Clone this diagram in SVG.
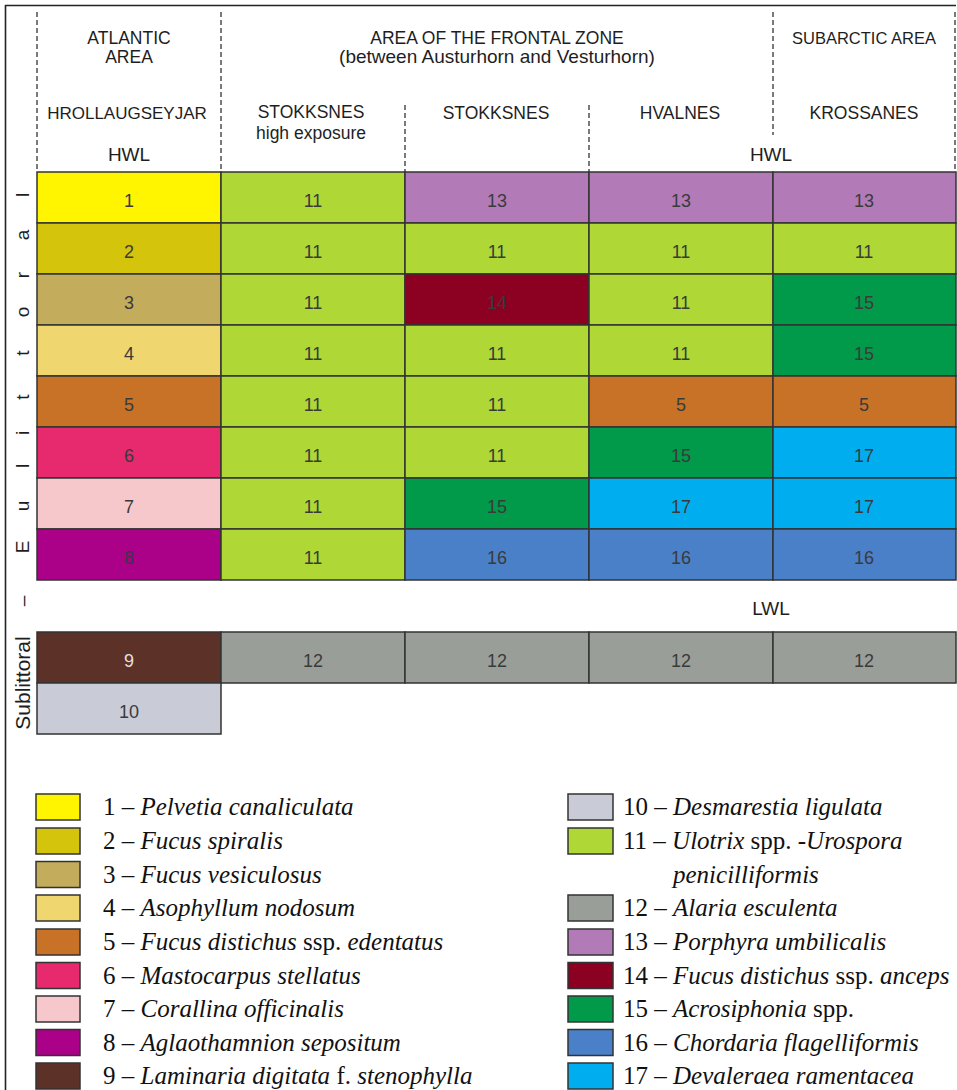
<svg xmlns="http://www.w3.org/2000/svg" width="957" height="1090" viewBox="0 0 957 1090">
<style>
.hd{font-family:"Liberation Sans",Arial,sans-serif;fill:#1e1e1e;text-anchor:middle}
.cap{font-size:17.5px}
.low{font-size:19px}
.wl{font-size:19px}
.num{font-family:"Liberation Sans",Arial,sans-serif;font-size:18px;fill:#3a3a3a;text-anchor:middle}
.cell{stroke:#333;stroke-width:1.5}
.dash{stroke:#333;stroke-width:1.3;stroke-dasharray:5 3;fill:none}
.lg{font-family:"Liberation Serif","Times New Roman",serif;font-size:25px;fill:#111}
.it{font-style:italic}
.sw{stroke:#333;stroke-width:1.5}
.c1{fill:#fff500}.c2{fill:#d4c40c}.c3{fill:#c3ac5c}.c4{fill:#efd66e}.c5{fill:#c77226}
.c6{fill:#e72a6d}.c7{fill:#f6c8cc}.c8{fill:#ab0088}.c9{fill:#5c3128}.c10{fill:#c9ccd6}
.c11{fill:#afd736}.c12{fill:#9a9e99}.c13{fill:#b27ab7}.c14{fill:#8c0022}.c15{fill:#009a4a}
.c16{fill:#4a80c7}.c17{fill:#00aeef}
</style>
<rect width="957" height="1090" fill="#fff"/>
<g id="frame" stroke="#222" stroke-width="1.6" fill="none">
<line x1="5" y1="5.5" x2="956" y2="5.5"/>
<line x1="5.5" y1="5" x2="5.5" y2="1090"/>
</g>
<g id="connectors">
<line class="dash" x1="37" y1="12" x2="37" y2="172"/>
<line class="dash" x1="221" y1="12" x2="221" y2="172"/>
<line class="dash" x1="405" y1="105" x2="405" y2="172"/>
<line class="dash" x1="589" y1="105" x2="589" y2="172"/>
<line class="dash" x1="773" y1="12" x2="773" y2="135"/>
<line class="dash" x1="955" y1="12" x2="955" y2="172"/>
</g>
<g id="headers">
<text class="hd cap" x="129" y="44">ATLANTIC</text>
<text class="hd cap" x="129" y="63">AREA</text>
<text class="hd cap" x="497" y="44">AREA OF THE FRONTAL ZONE</text>
<text class="hd low" x="497" y="63">(between Austurhorn and Vesturhorn)</text>
<text class="hd cap" x="864" y="44" style="font-size:16.5px">SUBARCTIC AREA</text>
<text class="hd cap" x="127" y="119" style="font-size:17px">HROLLAUGSEYJAR</text>
<text class="hd cap" x="311" y="118">STOKKSNES</text>
<text class="hd" x="311" y="138.5" style="font-size:17.5px">high exposure</text>
<text class="hd cap" x="496" y="119">STOKKSNES</text>
<text class="hd cap" x="680" y="119">HVALNES</text>
<text class="hd cap" x="864" y="119">KROSSANES</text>
<text class="hd wl" x="129" y="161">HWL</text>
<text class="hd wl" x="771" y="161">HWL</text>
<text class="hd wl" x="771" y="615">LWL</text>
</g>
<g id="axis" font-family="Liberation Sans, Arial, sans-serif" fill="#1e1e1e">
<text id="eulittoral" transform="translate(29,0) rotate(-90)" font-size="19" text-anchor="middle" x="-601 -547 -506 -466 -433 -397 -353 -312 -275 -235 -195" y="0">–Eulittoral</text>
<text id="sublittoral" transform="translate(30,683) rotate(-90)" font-size="21" text-anchor="middle" x="0" y="0">Sublittoral</text>
</g>
<g id="grid">
<g id="row1">
<rect class="cell c1" x="37" y="172" width="184" height="51"/><text class="num" x="129" y="207">1</text>
<rect class="cell c11" x="221" y="172" width="184" height="51"/><text class="num" x="313" y="207">11</text>
<rect class="cell c13" x="405" y="172" width="184" height="51"/><text class="num" x="497" y="207">13</text>
<rect class="cell c13" x="589" y="172" width="184" height="51"/><text class="num" x="681" y="207">13</text>
<rect class="cell c13" x="773" y="172" width="183" height="51"/><text class="num" x="864" y="207">13</text>
</g>
<g id="row2">
<rect class="cell c2" x="37" y="223" width="184" height="51"/><text class="num" x="129" y="258">2</text>
<rect class="cell c11" x="221" y="223" width="184" height="51"/><text class="num" x="313" y="258">11</text>
<rect class="cell c11" x="405" y="223" width="184" height="51"/><text class="num" x="497" y="258">11</text>
<rect class="cell c11" x="589" y="223" width="184" height="51"/><text class="num" x="681" y="258">11</text>
<rect class="cell c11" x="773" y="223" width="183" height="51"/><text class="num" x="864" y="258">11</text>
</g>
<g id="row3">
<rect class="cell c3" x="37" y="274" width="184" height="51"/><text class="num" x="129" y="309">3</text>
<rect class="cell c11" x="221" y="274" width="184" height="51"/><text class="num" x="313" y="309">11</text>
<rect class="cell c14" x="405" y="274" width="184" height="51"/><text class="num" x="497" y="309">14</text>
<rect class="cell c11" x="589" y="274" width="184" height="51"/><text class="num" x="681" y="309">11</text>
<rect class="cell c15" x="773" y="274" width="183" height="51"/><text class="num" x="864" y="309">15</text>
</g>
<g id="row4">
<rect class="cell c4" x="37" y="325" width="184" height="51"/><text class="num" x="129" y="360">4</text>
<rect class="cell c11" x="221" y="325" width="184" height="51"/><text class="num" x="313" y="360">11</text>
<rect class="cell c11" x="405" y="325" width="184" height="51"/><text class="num" x="497" y="360">11</text>
<rect class="cell c11" x="589" y="325" width="184" height="51"/><text class="num" x="681" y="360">11</text>
<rect class="cell c15" x="773" y="325" width="183" height="51"/><text class="num" x="864" y="360">15</text>
</g>
<g id="row5">
<rect class="cell c5" x="37" y="376" width="184" height="51"/><text class="num" x="129" y="411">5</text>
<rect class="cell c11" x="221" y="376" width="184" height="51"/><text class="num" x="313" y="411">11</text>
<rect class="cell c11" x="405" y="376" width="184" height="51"/><text class="num" x="497" y="411">11</text>
<rect class="cell c5" x="589" y="376" width="184" height="51"/><text class="num" x="681" y="411">5</text>
<rect class="cell c5" x="773" y="376" width="183" height="51"/><text class="num" x="864" y="411">5</text>
</g>
<g id="row6">
<rect class="cell c6" x="37" y="427" width="184" height="51"/><text class="num" x="129" y="462">6</text>
<rect class="cell c11" x="221" y="427" width="184" height="51"/><text class="num" x="313" y="462">11</text>
<rect class="cell c11" x="405" y="427" width="184" height="51"/><text class="num" x="497" y="462">11</text>
<rect class="cell c15" x="589" y="427" width="184" height="51"/><text class="num" x="681" y="462">15</text>
<rect class="cell c17" x="773" y="427" width="183" height="51"/><text class="num" x="864" y="462">17</text>
</g>
<g id="row7">
<rect class="cell c7" x="37" y="478" width="184" height="51"/><text class="num" x="129" y="513">7</text>
<rect class="cell c11" x="221" y="478" width="184" height="51"/><text class="num" x="313" y="513">11</text>
<rect class="cell c15" x="405" y="478" width="184" height="51"/><text class="num" x="497" y="513">15</text>
<rect class="cell c17" x="589" y="478" width="184" height="51"/><text class="num" x="681" y="513">17</text>
<rect class="cell c17" x="773" y="478" width="183" height="51"/><text class="num" x="864" y="513">17</text>
</g>
<g id="row8">
<rect class="cell c8" x="37" y="529" width="184" height="51"/><text class="num" x="129" y="564">8</text>
<rect class="cell c11" x="221" y="529" width="184" height="51"/><text class="num" x="313" y="564">11</text>
<rect class="cell c16" x="405" y="529" width="184" height="51"/><text class="num" x="497" y="564">16</text>
<rect class="cell c16" x="589" y="529" width="184" height="51"/><text class="num" x="681" y="564">16</text>
<rect class="cell c16" x="773" y="529" width="183" height="51"/><text class="num" x="864" y="564">16</text>
</g>
<g id="sub1">
<rect class="cell c9" x="37" y="632" width="184" height="51"/><text class="num" x="129" y="667" style="fill:#e6dfda">9</text>
<rect class="cell c12" x="221" y="632" width="184" height="51"/><text class="num" x="313" y="667">12</text>
<rect class="cell c12" x="405" y="632" width="184" height="51"/><text class="num" x="497" y="667">12</text>
<rect class="cell c12" x="589" y="632" width="184" height="51"/><text class="num" x="681" y="667">12</text>
<rect class="cell c12" x="773" y="632" width="183" height="51"/><text class="num" x="864" y="667">12</text>
</g>
<g id="sub2">
<rect class="cell c10" x="37" y="683" width="184" height="51"/><text class="num" x="129" y="718">10</text>
</g>
</g>
<g id="legend">
<g id="leg1"><rect class="sw c1" x="36" y="794" width="44" height="26"/><text class="lg" x="103" y="815">1 – <tspan class="it">Pelvetia canaliculata</tspan></text></g>
<g id="leg2"><rect class="sw c2" x="36" y="828" width="44" height="26"/><text class="lg" x="103" y="849">2 – <tspan class="it">Fucus spiralis</tspan></text></g>
<g id="leg3"><rect class="sw c3" x="36" y="861.5" width="44" height="26"/><text class="lg" x="103" y="882.5">3 – <tspan class="it">Fucus vesiculosus</tspan></text></g>
<g id="leg4"><rect class="sw c4" x="36" y="895" width="44" height="26"/><text class="lg" x="103" y="916">4 – <tspan class="it">Asophyllum nodosum</tspan></text></g>
<g id="leg5"><rect class="sw c5" x="36" y="929" width="44" height="26"/><text class="lg" x="103" y="950">5 – <tspan class="it">Fucus distichus</tspan> ssp. <tspan class="it">edentatus</tspan></text></g>
<g id="leg6"><rect class="sw c6" x="36" y="962.5" width="44" height="26"/><text class="lg" x="103" y="983.5">6 – <tspan class="it">Mastocarpus stellatus</tspan></text></g>
<g id="leg7"><rect class="sw c7" x="36" y="996" width="44" height="26"/><text class="lg" x="103" y="1017">7 – <tspan class="it">Corallina officinalis</tspan></text></g>
<g id="leg8"><rect class="sw c8" x="36" y="1029.5" width="44" height="26"/><text class="lg" x="103" y="1050.5">8 – <tspan class="it">Aglaothamnion sepositum</tspan></text></g>
<g id="leg9"><rect class="sw c9" x="36" y="1063" width="44" height="26"/><text class="lg" x="103" y="1084">9 – <tspan class="it">Laminaria digitata</tspan> f. <tspan class="it">stenophylla</tspan></text></g>
<g id="leg10"><rect class="sw c10" x="568" y="794" width="45" height="26"/><text class="lg" x="623" y="815">10 – <tspan class="it">Desmarestia ligulata</tspan></text></g>
<g id="leg11"><rect class="sw c11" x="568" y="828" width="45" height="26"/><text class="lg" x="623" y="849">11 – <tspan class="it">Ulotrix</tspan> spp. -<tspan class="it">Urospora</tspan></text><text class="lg it" x="673" y="882.5">penicilliformis</text></g>
<g id="leg12"><rect class="sw c12" x="568" y="895" width="45" height="26"/><text class="lg" x="623" y="916">12 – <tspan class="it">Alaria esculenta</tspan></text></g>
<g id="leg13"><rect class="sw c13" x="568" y="929" width="45" height="26"/><text class="lg" x="623" y="950">13 – <tspan class="it">Porphyra umbilicalis</tspan></text></g>
<g id="leg14"><rect class="sw c14" x="568" y="962.5" width="45" height="26"/><text class="lg" x="623" y="983.5">14 – <tspan class="it">Fucus distichus</tspan> ssp. <tspan class="it">anceps</tspan></text></g>
<g id="leg15"><rect class="sw c15" x="568" y="996" width="45" height="26"/><text class="lg" x="623" y="1017">15 – <tspan class="it">Acrosiphonia</tspan> spp.</text></g>
<g id="leg16"><rect class="sw c16" x="568" y="1029.5" width="45" height="26"/><text class="lg" x="623" y="1050.5">16 – <tspan class="it">Chordaria flagelliformis</tspan></text></g>
<g id="leg17"><rect class="sw c17" x="568" y="1063" width="45" height="26"/><text class="lg" x="623" y="1084">17 – <tspan class="it">Devaleraea ramentacea</tspan></text></g>
</g>
</svg>
